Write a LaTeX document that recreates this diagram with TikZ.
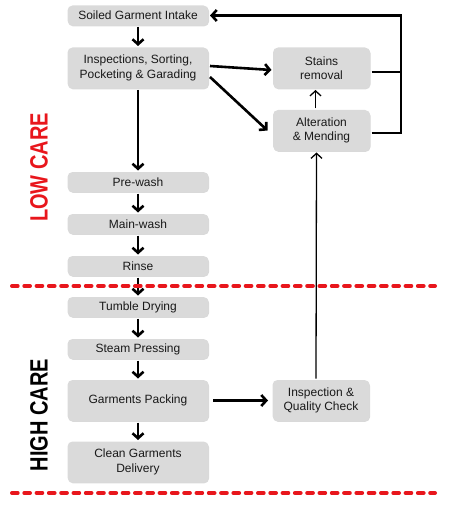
\documentclass[tikz,border=0pt]{standalone}
\usepackage{fontspec}
\setmainfont{Liberation Sans}
\usepackage{xcolor}
\usetikzlibrary{arrows.meta, positioning, shadows}
\definecolor{boxgray}{RGB}{218,218,218}
\definecolor{carered}{RGB}{232,22,28}

\begin{document}
\begin{tikzpicture}[x=1pt, y=-1pt, >={Straight Barb[length=5pt, width=11pt]}]
	\tikzstyle{stepbox} = [fill=boxgray, rounded corners=5pt, minimum width=141pt, minimum height=20pt, inner sep=1pt, outer sep=1.5pt, align=center, text=black!90, font=\fontsize{12}{14.5}\selectfont, drop shadow={shadow xshift=0.6pt, shadow yshift=-0.9pt, opacity=0.3, fill=gray}]
	\tikzstyle{tallbox} = [stepbox, minimum height=41pt]
	\tikzstyle{sidebox} = [tallbox, minimum width=97pt]
	\tikzstyle{flow} = [line width=2.6pt]
	\tikzstyle{back} = [line width=1.3pt]
	\tikzstyle{zone} = [draw=carered, line width=4pt, line cap=round, dash pattern=on 5.7pt off 6.6pt]
	\tikzstyle{carelabel} = [rotate=90, inner sep=0pt, font=\bfseries\fontsize{25}{25}\selectfont]
	
	\useasboundingbox (0,0) rectangle (450,505);
	
	\node[stepbox]		at (138, 15.5)		(intake)	{Soiled Garment Intake};
	\node[tallbox]		at (138, 68)		(insp)		{Inspections, Sorting,\\Pocketing \& Garading};
	\node[sidebox]		at (321.5, 68)		(stains)	{Stains\\removal};
	\node[sidebox]		at (321.5, 130.5)	(alter)		{Alteration\\\& Mending};
	\node[stepbox]		at (138, 182)		(prewash)	{Pre-wash};
	\node[stepbox]		at (138, 224)		(mainwash)	{Main-wash};
	\node[stepbox]		at (138, 266)		(rinse)		{Rinse};
	\node[stepbox]		at (138, 307)		(tumble)	{Tumble Drying};
	\node[stepbox]		at (138, 349)		(steam)		{Steam Pressing};
	\node[tallbox]		at (138, 400.5)		(packing)	{Garments Packing};
	\node[tallbox]		at (138, 462)		(delivery)	{Clean Garments\\Delivery};
	\node[sidebox]		at (321, 400.5)		(qc)		{Inspection \&\\Quality Check};
	
	\node[carelabel, text=carered]	at (39, 167.5)	(lowcare)	{\scalebox{0.8}[1]{LOW CARE}};
	\node[carelabel, text=black]	at (39, 415)	(highcare)	{\scalebox{0.8}[1]{HIGH CARE}};
	
	\coordinate (fbtop) at (401, 15.5);
	\coordinate (zonel1) at (12, 286);
	\coordinate (zoner1) at (435, 286);
	\coordinate (zonel2) at (12, 493);
	\coordinate (zoner2) at (435, 493);
	
	\path[->, flow]
	(intake)	edge	(insp)
	(insp)		edge	(prewash)
	(prewash)	edge	(mainwash)
	(mainwash)	edge	(rinse)
	(rinse)		edge	(tumble)
	(tumble)	edge	(steam)
	(steam)		edge	(packing)
	(packing)	edge	(delivery)
	(packing)	edge [shorten <=3pt, shorten >=3pt]	(qc)
	([yshift=2pt]insp.east)		edge	([yshift=-2pt]stains.west)
	([yshift=-9pt]insp.east)	edge	([xshift=-4pt]alter.west);
	
	% loop back to the intake
	\draw[flow, ->] ([yshift=-2.5pt]alter.east) -| (fbtop) -- (intake.east);
	\draw[flow] ([yshift=-4pt]stains.east) -- ([yshift=-4pt]stains.east -| fbtop);
	
	\draw[back, ->] ([xshift=-6pt]alter.north) -- ([xshift=-6pt]stains.south);
	\draw[back, ->] ([xshift=-5pt]qc.north) -- ([xshift=-5pt]alter.south);
	
	\draw[zone] (zonel1) -- (zoner1);
	\draw[zone] (zonel2) -- (zoner2);
\end{tikzpicture}
\end{document}
